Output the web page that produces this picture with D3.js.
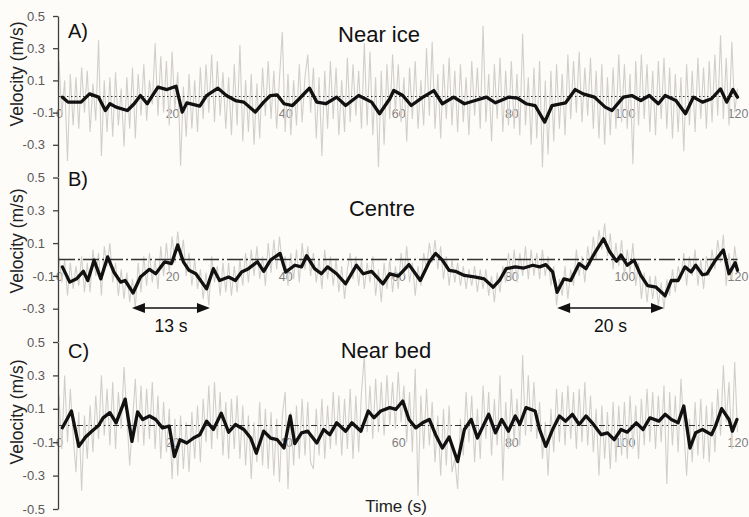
<!DOCTYPE html>
<html>
<head>
<meta charset="utf-8">
<title>Velocity time series</title>
<script src="https://d3js.org/d3.v7.min.js"></script>
<style>
  body { margin: 0; background: #fdfcf9; }
  svg { display: block; font-family: "Liberation Sans", Arial, sans-serif; }
  .raw { fill: none; stroke: #d2cfcb; stroke-width: 1.1; }
  .smooth { fill: none; stroke: #111; stroke-width: 3.3; stroke-linejoin: round; stroke-linecap: round; }
  .y-axis path, .y-axis line { stroke: #404040; stroke-width: 1.3; }
  .y-axis text { font-size: 13px; fill: #595959; }
  .x-axis text { font-size: 12.5px; fill: #808080; }
  .title { font-size: 22px; fill: #111; }
  .letter { font-size: 20px; fill: #111; }
  .ylabel { font-size: 17.5px; fill: #222; }
</style>
</head>
<body>
<svg id="chart"></svg>
<script>
// raw velocity, one value every 0.5 s from 0 to 120 s
const rawStep = 0.5;
const timeTicks = [0, 20, 40, 60, 80, 100, 120];
const panelLetters = ["A)", "B)", "C)"];
const panelTitles = ["Near ice", "Centre", "Near bed"];
const yTicksTop = [0.5, 0.3, 0.1, -0.1, -0.3];
const yTicksBottom = [0.5, 0.3, 0.1, -0.1, -0.3, -0.5];

const rawA = [
  0.22,-0.12,0.10,-0.40,0.14,-0.18,0.12,-0.20,0.18,-0.10,
  0.16,-0.22,0.08,-0.15,0.35,-0.37,0.10,-0.22,0.12,-0.25,
  0.15,-0.18,0.05,-0.31,0.12,-0.20,0.18,-0.26,0.14,-0.12,
  0.20,-0.15,0.10,-0.05,0.33,-0.12,0.25,-0.10,0.22,-0.18,
  0.28,-0.08,0.15,-0.43,0.06,-0.25,0.14,-0.20,0.10,-0.22,
  0.18,-0.14,0.20,-0.10,0.26,-0.16,0.22,-0.12,0.15,-0.20,
  0.12,-0.24,0.20,-0.18,0.32,-0.28,0.10,-0.22,0.14,-0.30,
  0.08,-0.26,0.18,-0.12,0.22,-0.14,0.16,-0.20,0.12,0.40,
  -0.22,0.14,-0.24,0.10,-0.18,0.20,-0.16,0.12,0.26,-0.10,
  0.18,-0.26,0.12,-0.37,0.16,-0.20,0.22,-0.14,0.18,-0.24,
  0.10,-0.22,0.24,-0.16,0.20,-0.12,0.16,-0.20,0.33,-0.18,
  0.28,-0.24,0.12,-0.44,0.16,-0.30,0.20,-0.14,0.26,-0.10,
  0.20,-0.16,0.12,-0.28,0.18,-0.14,0.22,-0.20,0.10,-0.18,
  0.30,-0.12,0.34,-0.20,0.14,-0.26,0.20,-0.14,0.24,-0.18,
  0.16,-0.22,0.20,-0.16,0.12,-0.24,0.22,-0.12,0.18,-0.20,
  0.44,-0.16,0.14,-0.28,0.20,-0.14,0.24,-0.22,0.16,-0.18,
  0.22,-0.20,0.14,-0.24,0.39,-0.18,0.12,-0.30,0.18,-0.26,
  0.22,-0.44,0.10,-0.36,0.16,-0.28,0.20,-0.20,0.14,-0.24,
  0.26,-0.14,0.22,-0.10,0.28,-0.16,0.18,-0.12,0.24,-0.20,
  0.16,-0.26,0.20,-0.30,0.12,-0.24,0.18,-0.20,0.26,-0.16,
  0.20,-0.20,0.14,-0.42,0.22,-0.18,0.26,-0.14,0.20,-0.22,
  0.16,-0.24,0.22,-0.14,0.24,-0.20,0.18,-0.26,0.14,-0.22,
  0.12,-0.34,0.20,-0.18,0.16,-0.22,0.24,-0.14,0.18,-0.20,
  0.22,-0.16,0.26,-0.12,0.38,-0.14,0.24,-0.18,0.34,-0.10,
  0.05
];

const rawB = [
  0.02,-0.14,0.00,-0.22,-0.02,-0.18,-0.04,-0.16,0.02,-0.20,
  -0.02,-0.20,0.06,-0.10,0.04,-0.22,0.08,-0.04,0.10,-0.14,
  -0.02,-0.22,-0.06,-0.24,-0.08,-0.26,-0.12,-0.30,-0.02,-0.20,
  0.02,-0.16,0.04,-0.14,0.00,-0.18,0.08,-0.10,0.10,-0.08,
  0.14,-0.02,0.17,0.00,0.12,-0.10,0.04,-0.16,0.00,-0.18,
  -0.06,-0.24,-0.08,-0.28,0.02,-0.14,-0.04,-0.22,-0.02,-0.20,
  -0.02,-0.22,-0.04,-0.20,0.00,-0.16,0.04,-0.14,0.06,-0.10,
  0.08,-0.12,0.02,-0.16,0.10,-0.08,0.12,-0.06,0.14,-0.04,
  0.02,-0.16,0.04,-0.12,0.06,-0.14,0.10,-0.06,0.08,-0.10,
  0.04,-0.14,0.00,-0.18,0.06,-0.12,0.02,-0.16,0.00,-0.20,
  -0.04,-0.24,-0.06,0.04,-0.12,0.02,-0.16,0.00,-0.18,-0.02,
  -0.14,0.02,-0.22,-0.06,-0.26,-0.02,-0.18,0.00,-0.20,-0.04,
  -0.18,0.04,-0.10,0.08,-0.14,-0.02,-0.22,-0.04,-0.16,0.04,
  -0.06,0.10,-0.02,0.12,-0.06,0.08,-0.12,0.02,-0.16,0.00,
  -0.14,-0.02,-0.16,-0.04,-0.18,-0.06,-0.16,-0.04,-0.20,-0.06,
  -0.18,-0.06,-0.22,-0.10,-0.26,-0.08,-0.20,-0.04,-0.14,0.04,
  -0.12,0.06,-0.14,0.04,-0.10,0.08,-0.12,0.06,-0.10,0.04,
  -0.12,0.06,-0.10,0.02,-0.16,-0.04,-0.28,-0.12,-0.22,-0.04,
  -0.24,-0.06,-0.16,0.06,-0.10,0.02,-0.14,0.08,-0.04,0.14,
  0.00,0.18,0.06,0.22,0.02,0.16,-0.06,0.10,-0.04,0.12,
  -0.10,0.06,-0.08,0.10,-0.16,-0.02,-0.24,-0.08,-0.26,-0.10,
  -0.24,-0.10,-0.28,-0.14,-0.30,-0.12,-0.22,-0.06,-0.20,-0.04,
  -0.12,0.04,-0.16,0.02,-0.10,0.06,-0.16,0.00,-0.18,0.02,
  -0.10,0.06,-0.06,0.12,-0.02,0.15,-0.16,0.04,-0.12,0.08,
  -0.06
];

const rawC = [
  0.18,-0.14,0.30,-0.10,0.22,-0.06,-0.28,0.08,-0.39,0.06,
  -0.20,0.12,-0.16,0.18,-0.08,0.30,-0.06,0.22,-0.12,0.26,
  -0.14,0.20,-0.02,0.35,0.06,-0.24,0.02,0.28,-0.10,0.24,
  -0.12,0.22,-0.08,0.26,-0.14,0.18,-0.20,0.14,-0.16,0.10,
  -0.32,0.04,-0.30,0.06,-0.26,0.02,-0.28,0.08,-0.20,0.12,
  -0.22,0.16,-0.10,0.24,-0.14,0.26,-0.08,0.20,-0.18,0.14,
  -0.20,0.16,-0.14,0.18,-0.20,0.12,-0.24,0.06,-0.32,0.02,
  -0.22,0.14,-0.24,0.10,-0.26,0.08,-0.30,0.04,-0.34,0.06,
  0.20,-0.38,0.08,-0.24,0.12,-0.20,0.16,-0.18,0.14,-0.22,
  -0.26,0.10,-0.18,0.16,-0.20,0.12,-0.14,0.20,-0.12,0.18,
  -0.18,0.16,-0.14,0.22,-0.20,0.18,-0.16,0.20,0.42,-0.04,
  0.24,-0.08,0.28,-0.04,0.26,-0.06,0.30,0.00,0.26,-0.02,
  0.32,0.02,0.24,-0.10,0.20,-0.16,0.34,-0.42,0.18,-0.14,
  0.22,-0.12,0.14,-0.22,0.06,-0.30,0.10,-0.24,0.12,-0.28,
  -0.20,-0.38,0.04,-0.18,0.20,-0.10,0.18,-0.22,0.10,-0.20,
  0.24,-0.08,0.20,-0.18,0.16,-0.12,0.30,-0.33,0.14,-0.14,
  0.22,-0.10,0.16,-0.12,0.42,-0.06,0.30,-0.04,0.26,-0.08,
  0.14,-0.20,0.02,-0.30,0.10,-0.16,0.22,-0.10,0.20,-0.12,
  0.24,-0.08,0.20,-0.14,0.22,-0.10,0.26,-0.12,0.18,-0.16,
  0.10,-0.30,0.12,-0.20,0.08,-0.26,0.14,-0.22,0.12,-0.18,
  0.14,-0.20,0.18,-0.14,0.12,-0.20,0.16,-0.12,0.22,-0.10,
  0.20,-0.14,0.18,-0.10,0.24,-0.35,0.20,-0.12,0.18,-0.16,
  0.28,-0.02,-0.30,0.04,-0.22,0.14,-0.18,0.16,-0.20,0.12,
  -0.22,0.14,-0.16,0.22,-0.06,0.36,0.02,0.26,-0.14,0.38,
  -0.04
];

// smoothed velocity, read at the turning points of the black curve
const smoothTimeA = [0.6,1.6,3.9,5.4,7.0,8.2,9.0,10.1,12.1,13.3,14.4,15.6,17.5,19.1,20.7,21.8,22.6,24.9,26.1,28.1,29.6,31.2,32.7,34.7,36.2,37.4,38.6,39.8,41.3,42.5,44.3,45.6,47.2,49.1,50.7,53.0,55.3,56.7,58.5,59.2,60.8,62.3,64.3,66.3,67.8,69.8,71.7,73.6,75.6,77.2,79.5,81.1,82.6,84.2,85.9,87.2,89.6,91.3,92.7,94.7,96.6,97.8,99.8,101.3,102.9,104.4,106.0,107.2,109.1,110.8,112.2,113.8,115.4,117.0,118.1,119.2,120.0];
const smoothA = [-0.004,-0.035,-0.035,0.016,-0.004,-0.087,-0.045,-0.066,-0.087,-0.045,0.006,-0.045,0.058,0.043,0.064,-0.097,-0.04,-0.06,0.006,0.052,0.006,-0.025,-0.035,-0.097,-0.035,0.006,0.010,-0.045,-0.056,-0.014,0.052,-0.035,-0.045,-0.004,-0.056,0.006,-0.035,-0.107,-0.014,0.037,0.006,-0.056,-0.006,0.037,-0.045,-0.004,-0.045,-0.025,-0.004,-0.039,-0.004,-0.010,-0.045,-0.056,-0.159,-0.056,-0.039,0.043,0.016,-0.004,-0.066,-0.087,-0.004,0.006,-0.025,0.006,-0.045,0.006,-0.025,-0.107,-0.004,-0.035,-0.014,0.047,-0.035,0.043,-0.004];

const smoothTimeB = [0.6,1.9,3.1,4.3,5.1,6.2,7.4,8.6,9.7,10.9,11.7,13.1,14.4,16.0,17.1,18.7,19.9,21.0,22.0,23.0,24.2,26.1,27.3,28.4,30.0,31.2,32.3,33.5,35.1,36.2,37.4,39.1,40.1,41.7,42.9,43.8,45.2,46.4,47.5,49.1,50.7,52.6,53.8,55.3,57.3,58.5,60.0,61.9,63.9,65.5,66.6,67.8,69.0,70.1,71.7,73.7,75.2,76.8,77.9,79.1,80.7,82.2,83.8,85.0,86.1,87.3,88.1,89.3,90.5,92.0,93.2,94.7,96.3,97.4,98.6,99.4,100.5,101.7,102.9,104.1,105.6,107.2,108.3,109.5,110.7,111.8,112.6,113.8,114.6,116.1,117.5,118.5,119.6,120.0];
const smoothB = [-0.045,-0.138,-0.118,-0.072,-0.128,-0.004,-0.118,0.016,-0.076,-0.138,-0.128,-0.204,-0.107,-0.060,-0.087,-0.014,-0.025,0.089,-0.014,-0.066,-0.087,-0.179,-0.056,-0.128,-0.107,-0.128,-0.076,-0.056,-0.014,-0.072,-0.004,0.037,-0.076,-0.035,-0.045,0.023,-0.056,-0.087,-0.045,-0.087,-0.148,-0.035,-0.087,-0.072,-0.148,-0.087,-0.101,-0.031,-0.128,-0.014,0.037,-0.004,-0.066,-0.072,-0.097,-0.107,-0.118,-0.169,-0.128,-0.056,-0.045,-0.052,-0.035,-0.045,-0.031,-0.076,-0.200,-0.118,-0.128,-0.025,-0.056,0.037,0.126,0.047,-0.010,0.027,-0.035,-0.004,-0.097,-0.159,-0.169,-0.221,-0.128,-0.128,-0.045,-0.076,-0.035,-0.093,-0.087,-0.004,0.058,-0.087,-0.019,-0.066];

const smoothTimeC = [0.6,2.2,3.5,4.7,5.8,7.0,7.8,9.0,10.1,11.7,12.9,13.9,14.8,16.0,17.1,18.3,19.5,20.4,21.4,22.6,23.8,24.9,26.1,27.3,28.7,30.0,31.2,32.7,33.9,34.9,36.2,37.4,38.6,39.8,40.9,41.7,42.9,44.0,45.6,46.8,47.9,49.1,50.7,51.8,53.4,54.7,55.7,56.9,58.5,59.6,60.8,61.9,63.1,64.3,65.5,66.6,67.8,69.0,70.5,71.7,72.9,74.0,76.0,77.2,78.3,79.5,80.7,81.5,82.6,84.2,85.0,86.1,87.3,88.5,89.6,90.8,92.0,93.2,94.3,95.9,97.0,98.2,99.4,100.5,102.1,103.3,104.5,106.1,107.2,108.3,109.5,110.5,111.6,112.6,113.8,115.4,116.1,117.2,118.5,119.1,119.9];
const smoothC = [-0.014,0.087,-0.125,-0.069,-0.034,0.000,0.046,0.077,0.016,0.158,-0.095,0.081,0.036,0.057,0.036,-0.014,-0.004,-0.186,-0.085,-0.105,-0.075,-0.055,0.026,-0.024,0.073,-0.040,0.006,-0.024,-0.075,-0.166,-0.034,-0.075,-0.085,-0.135,0.057,-0.109,-0.044,-0.034,-0.105,-0.024,-0.055,0.016,-0.034,0.016,-0.034,0.087,0.046,0.087,0.107,0.097,0.147,0.036,-0.014,0.016,0.036,-0.055,-0.135,-0.069,-0.216,-0.024,0.036,-0.075,0.067,-0.044,0.036,-0.034,0.057,0.006,0.107,0.087,-0.024,-0.125,-0.024,0.057,0.026,0.067,0.006,0.057,0.016,-0.055,-0.044,-0.085,-0.024,-0.040,0.016,-0.024,0.046,0.026,0.067,0.036,0.016,0.117,-0.135,-0.044,-0.024,-0.055,-0.004,0.101,0.036,-0.034,0.036];

// period annotations in panel B
const periodStarts = [12.9, 88.1];
const periodEnds = [26.7, 107.0];
const periodLabels = ["13 s", "20 s"];

const width = 749;
const height = 517;

const svg = d3.select("#chart")
  .attr("width", width)
  .attr("height", height);

const x = d3.scaleLinear().domain([0, 120]).range([59, 737.5]);

const panels = [
  { raw: rawA, st: smoothTimeA, sv: smoothA, ticks: yTicksTop, top: 16, bottom: 177,
    dash: "1.5,2.5", titleX: 379, titleY: 42, letterY: 38, labelY: 74 },
  { raw: rawB, st: smoothTimeB, sv: smoothB, ticks: yTicksTop, top: 177.5, bottom: 341.5,
    dash: "16,3,2,3", titleX: 382, titleY: 216, letterY: 186, labelY: 241 },
  { raw: rawC, st: smoothTimeC, sv: smoothC, ticks: yTicksBottom, top: 342, bottom: 509,
    dash: "6,3,1.5,3,1.5,3", titleX: 386, titleY: 358, letterY: 358, labelY: 412 }
];

panels.forEach((p, k) => {
  const y = d3.scaleLinear().domain([-0.5, 0.5]).range([p.bottom, p.top]);
  const g = svg.append("g");

  // x tick labels sit just under the zero line
  const xAxis = g.append("g")
    .attr("class", "x-axis")
    .attr("transform", `translate(0,${y(0)})`)
    .call(d3.axisBottom(x).tickValues(timeTicks).tickSize(0).tickPadding(12.5));
  xAxis.select(".domain").remove();

  g.append("path")
    .datum(p.raw)
    .attr("class", "raw")
    .attr("d", d3.line().x((d, i) => x(i * rawStep)).y(d => y(d)));

  g.append("line")
    .attr("x1", x(0)).attr("x2", x(120))
    .attr("y1", y(0)).attr("y2", y(0))
    .attr("stroke", "#333")
    .attr("stroke-width", k === 1 ? 1.3 : 1.1)
    .attr("stroke-dasharray", p.dash);

  g.append("path")
    .datum(p.sv)
    .attr("class", "smooth")
    .attr("d", d3.line().x((d, i) => x(p.st[i])).y(d => y(d)));

  const yAxis = g.append("g")
    .attr("class", "y-axis")
    .attr("transform", `translate(${x(0) - 1},0)`)
    .call(d3.axisLeft(y).tickValues(p.ticks).tickSize(5).tickSizeOuter(0)
      .tickPadding(8).tickFormat(d => d.toFixed(1)));
  // the -0.1 label sits closer to the axis, as in the original
  yAxis.selectAll(".tick").filter(d => d === -0.1)
    .select("text").attr("x", -3);

  g.append("text")
    .attr("class", "letter")
    .attr("x", 68).attr("y", p.letterY)
    .text(panelLetters[k]);

  g.append("text")
    .attr("class", "title")
    .attr("x", p.titleX).attr("y", p.titleY)
    .attr("text-anchor", "middle")
    .text(panelTitles[k]);

  g.append("text")
    .attr("class", "ylabel")
    .attr("transform", `translate(23,${p.labelY}) rotate(-90)`)
    .attr("text-anchor", "middle")
    .text("Velocity (m/s)");

  if (k === 1) {
    const ay = 308;
    periodStarts.forEach((s, j) => {
      const x0 = x(s), x1 = x(periodEnds[j]);
      g.append("line")
        .attr("x1", x0 + 8).attr("x2", x1 - 8)
        .attr("y1", ay).attr("y2", ay)
        .attr("stroke", "#111").attr("stroke-width", 1.6);
      g.append("path")
        .attr("d", `M${x0},${ay}l13,-5v10z M${x1},${ay}l-13,-5v10z`)
        .attr("fill", "#111");
      g.append("text")
        .attr("x", (x0 + x1) / 2).attr("y", 331.5)
        .attr("text-anchor", "middle")
        .attr("font-size", "17.5px")
        .attr("fill", "#111")
        .text(periodLabels[j]);
    });
  }
});

svg.append("text")
  .attr("x", 396).attr("y", 512)
  .attr("text-anchor", "middle")
  .attr("font-size", "17px")
  .attr("fill", "#222")
  .text("Time (s)");
</script>
</body>
</html>
